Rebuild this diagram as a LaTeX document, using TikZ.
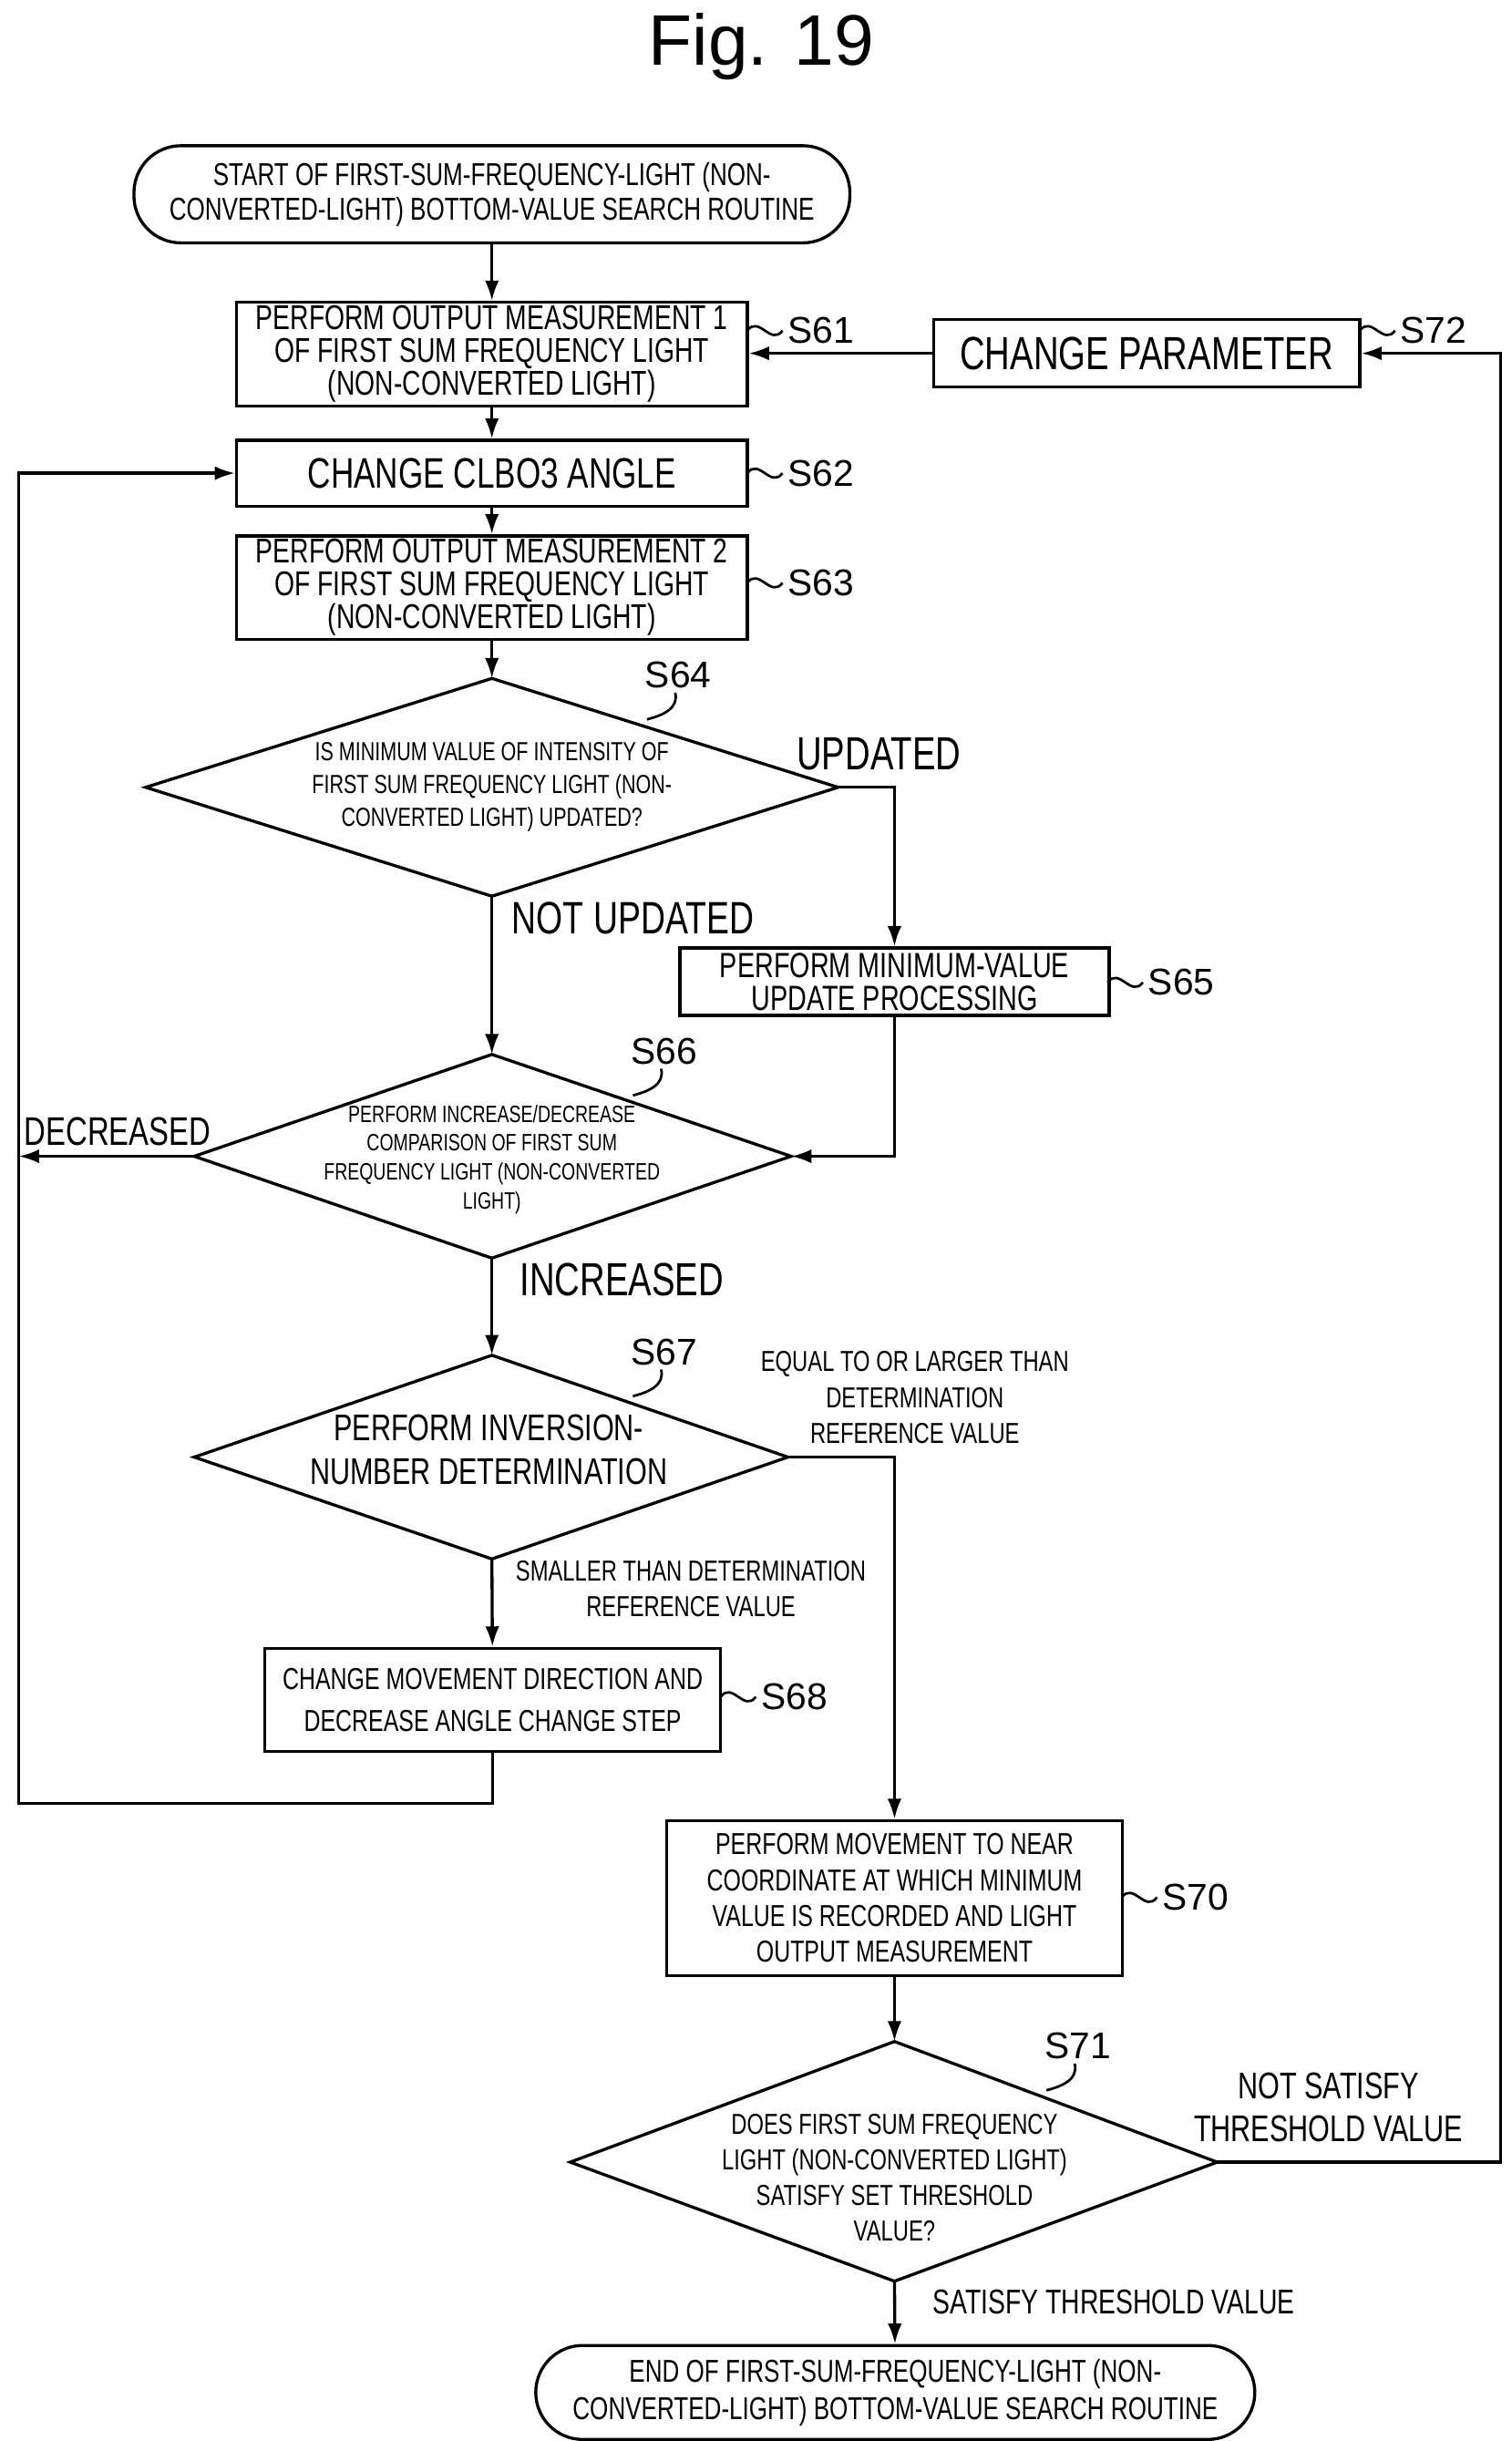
\documentclass[tikz,border=0pt]{standalone}
\usepackage{fontspec}
\setmainfont{Liberation Sans}
\newfontfamily\cnd[FakeStretch=0.75]{Liberation Sans}
\usetikzlibrary{arrows.meta}
\newcommand\fs[2]{\fontsize{#1}{#2}\selectfont\cnd}
\newcommand\stepl[3]{%
  \draw[sq] #1 .. controls +(0.15,0.2) and +(-0.15,-0.2) .. ++(0.45,0)
     node[anchor=west,inner sep=1.5pt,font={\fontsize{13.5}{15}\selectfont}] (#3) {#2};}
\newcommand\dstep[3]{%
  \node[font={\fontsize{13.5}{15}\selectfont},inner sep=1pt] (#3) at #1 {#2};
  \draw[sq] ([xshift=-0.04cm]#3.south) .. controls +(0.05,-0.2) and +(0.2,0.05) .. ++(-0.36,-0.34);}
\begin{document}
\begin{tikzpicture}[line width=1.1pt, >={Latex[length=2.6mm,width=1.8mm]},
  box/.style={draw, rectangle, inner sep=0pt, align=center},
  txt/.style={inner sep=0pt, align=center},
  sq/.style={line width=0.9pt}]
\path[use as bounding box] (0,0) rectangle (19.3,-31.16);
\node[txt,font={\fontsize{26}{30}\selectfont}] (title) at (9.72,-0.60) {Fig. 19};

% boxes
\node[box,rounded corners=0.6cm,minimum width=9.14cm,minimum height=1.24cm,font={\fs{11.5}{12.5}}] (start) at (6.28,-2.48)
  {START OF FIRST-SUM-FREQUENCY-LIGHT (NON-\\CONVERTED-LIGHT) BOTTOM-VALUE SEARCH ROUTINE};
\node[box,minimum width=6.52cm,minimum height=1.32cm,font={\fs{12.5}{11.9}}] (s61) at (6.28,-4.52)
  {PERFORM OUTPUT MEASUREMENT 1\\OF FIRST SUM FREQUENCY LIGHT\\(NON-CONVERTED LIGHT)};
\node[box,minimum width=5.44cm,minimum height=0.86cm,font={\fs{16.9}{18}}] (s72) at (14.64,-4.51) {CHANGE PARAMETER};
\node[box,minimum width=6.52cm,minimum height=0.84cm,font={\fs{15.5}{17}}] (s62) at (6.28,-6.04) {CHANGE CLBO3 ANGLE};
\node[box,minimum width=6.52cm,minimum height=1.32cm,font={\fs{12.5}{11.9}}] (s63) at (6.28,-7.50)
  {PERFORM OUTPUT MEASUREMENT 2\\OF FIRST SUM FREQUENCY LIGHT\\(NON-CONVERTED LIGHT)};

% S64 diamond
\coordinate (d64t) at (6.28,-8.66); \coordinate (d64b) at (6.28,-11.44);
\coordinate (d64l) at (1.86,-10.05); \coordinate (d64r) at (10.70,-10.05);
\draw (d64t) -- (d64r) -- (d64b) -- (d64l) -- cycle;
\node[txt,font={\fs{9.5}{11.9}}] (s64) at (6.28,-10.05)
  {IS MINIMUM VALUE OF INTENSITY OF\\FIRST SUM FREQUENCY LIGHT (NON-\\CONVERTED LIGHT) UPDATED?};

\node[box,minimum width=5.48cm,minimum height=0.86cm,font={\fs{12.7}{11.9}}] (s65) at (11.42,-12.53)
  {PERFORM MINIMUM-VALUE\\UPDATE PROCESSING};

% S66
\coordinate (d66t) at (6.28,-13.46); \coordinate (d66b) at (6.28,-16.06);
\coordinate (d66l) at (2.48,-14.76); \coordinate (d66r) at (10.10,-14.76);
\draw (d66t) -- (d66r) -- (d66b) -- (d66l) -- cycle;
\node[txt,font={\fs{8.6}{10.5}}] (s66) at (6.28,-14.80)
  {PERFORM INCREASE/DECREASE\\COMPARISON OF FIRST SUM\\FREQUENCY LIGHT (NON-CONVERTED\\LIGHT)};

% S67
\coordinate (d67t) at (6.28,-17.30); \coordinate (d67b) at (6.28,-19.90);
\coordinate (d67l) at (2.48,-18.60); \coordinate (d67r) at (10.06,-18.60);
\draw (d67t) -- (d67r) -- (d67b) -- (d67l) -- cycle;
\node[txt,font={\fs{13.5}{15.9}}] (s67) at (6.24,-18.50) {PERFORM INVERSION-\\NUMBER DETERMINATION};

\node[box,minimum width=5.82cm,minimum height=1.32cm,font={\fs{11}{15.3}}] (s68) at (6.29,-21.70)
  {CHANGE MOVEMENT DIRECTION AND\\DECREASE ANGLE CHANGE STEP};
\node[box,minimum width=5.82cm,minimum height=1.98cm,font={\fs{11}{13}}] (s70) at (11.42,-24.23)
  {PERFORM MOVEMENT TO NEAR\\COORDINATE AT WHICH MINIMUM\\VALUE IS RECORDED AND LIGHT\\OUTPUT MEASUREMENT};

% S71
\coordinate (d71t) at (11.42,-26.06); \coordinate (d71b) at (11.42,-29.12);
\coordinate (d71l) at (7.28,-27.60); \coordinate (d71r) at (15.54,-27.60);
\draw (d71t) -- (d71r) -- (d71b) -- (d71l) -- cycle;
\node[txt,font={\fs{10.5}{12.9}}] (s71) at (11.42,-27.80)
  {DOES FIRST SUM FREQUENCY\\LIGHT (NON-CONVERTED LIGHT)\\SATISFY SET THRESHOLD\\VALUE?};

\node[box,rounded corners=0.6cm,minimum width=9.18cm,minimum height=1.20cm,font={\fs{11.5}{13.6}}] (end) at (11.43,-30.54)
  {END OF FIRST-SUM-FREQUENCY-LIGHT (NON-\\CONVERTED-LIGHT) BOTTOM-VALUE SEARCH ROUTINE};

% step labels
\stepl{(9.54,-4.22)}{S61}{l61}
\stepl{(17.36,-4.22)}{S72}{l72}
\stepl{(9.54,-6.04)}{S62}{l62}
\stepl{(9.54,-7.44)}{S63}{l63}
\stepl{(14.14,-12.54)}{S65}{l65}
\stepl{(9.20,-21.66)}{S68}{l68}
\stepl{(14.32,-24.22)}{S70}{l70}
\dstep{(8.66,-8.62)}{S64}{l64}
\dstep{(8.48,-13.42)}{S66}{l66}
\dstep{(8.48,-17.26)}{S67}{l67}
\dstep{(13.76,-26.12)}{S71}{l71}

% branch labels
\node[txt,font={\fs{16.9}{18}}] (lupd) at (11.22,-9.62) {UPDATED};
\node[txt,font={\fs{16.5}{18}}] (lnupd) at (8.08,-11.72) {NOT UPDATED};
\node[txt,font={\fs{14.5}{16}}] (ldec) at (1.50,-14.44) {DECREASED};
\node[txt,font={\fs{16.9}{18}}] (linc) at (7.94,-16.34) {INCREASED};
\node[txt,font={\fs{10.5}{13}}] (leq) at (11.68,-17.84) {EQUAL TO OR LARGER THAN\\DETERMINATION\\REFERENCE VALUE};
\node[txt,font={\fs{10.5}{13}}] (lsm) at (8.82,-20.28) {SMALLER THAN DETERMINATION\\REFERENCE VALUE};
\node[txt,font={\fs{13.5}{15.3}}] (lns) at (16.96,-26.90) {NOT SATISFY\\THRESHOLD VALUE};
\node[txt,font={\fs{12.5}{14}}] (lsat) at (14.22,-29.38) {SATISFY THRESHOLD VALUE};

% connectors
\draw[->] (start) -- (s61);
\draw[->] (s61) -- (s62);
\draw[->] (s62) -- (s63);
\draw[->] (s63) -- (d64t);
\draw[->] (d64r) -| (s65);
\draw[->] (d64b) -- (d66t);
\draw[->] (s65) |- (d66r);
\coordinate (lx) at (0.24,-14.76);
\draw[->] (d66l) -- (lx);
\draw[->] (d66b) -- (d67t);
\draw[->] (d67b) -- (s68);
\draw[->] (d67r) -| (s70);
\coordinate (lb) at (0.24,-23.02);
\draw[->] (s68.south) |- (lb) |- (s62.west);
\draw[->] (s70) -- (d71t);
\draw[->] (d71b) -- (end);
\coordinate (rx) at (19.16,-27.60);
\draw[->] (d71r) -- (rx) |- (s72.east);
\draw[->] (s72.west) -- (s72.west -| s61.east);
\end{tikzpicture}
\end{document}
